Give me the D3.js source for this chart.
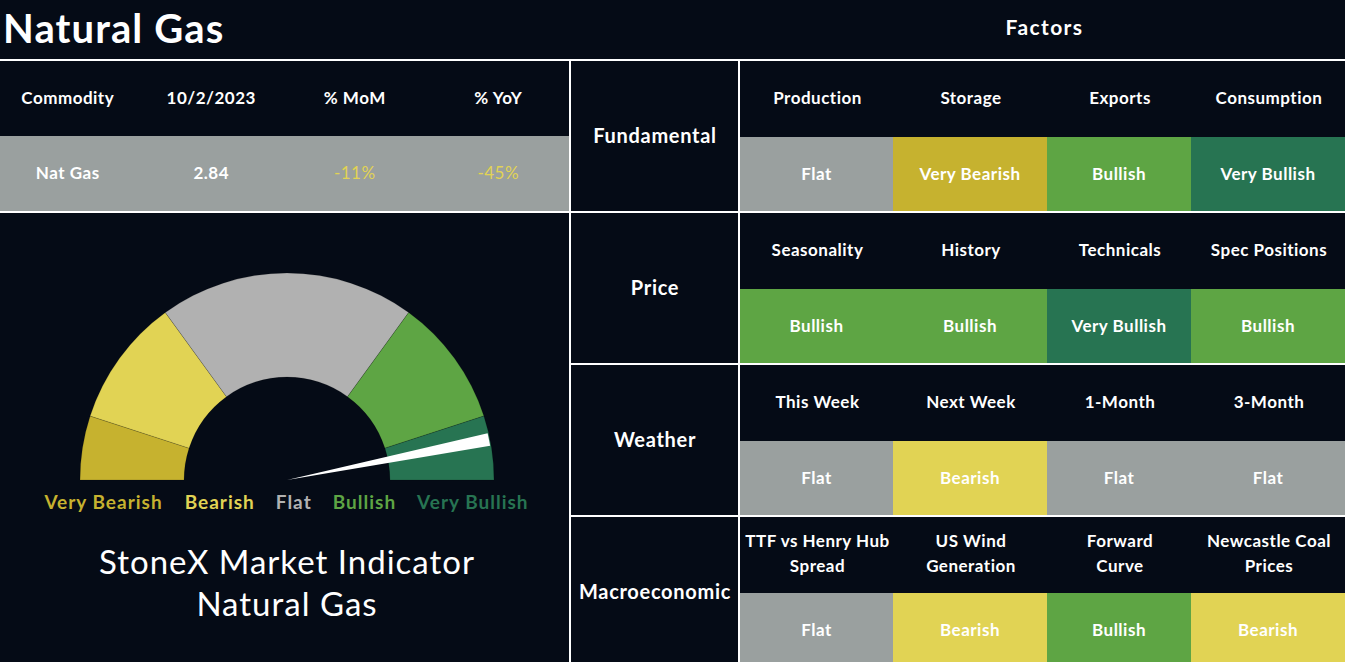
<!DOCTYPE html>
<html>
<head>
<meta charset="utf-8">
<script src="https://cdn.jsdelivr.net/npm/d3@7"></script>
<style>
  html, body { margin: 0; padding: 0; background: #050B16; }
  svg { display: block; font-family: Lato, "Open Sans", sans-serif; }
</style>
</head>
<body>
<svg id="chart" width="1345" height="662"></svg>
<script>
// ---------- data ----------
const pageTitle = "Natural Gas";
const factorsTitle = "Factors";
const tableHeaders = ["Commodity", "10/2/2023", "% MoM", "% YoY"];
const tableValues = ["Nat Gas", "2.84", "-11%", "-45%"];
const tableValueTone = ["plain", "plain", "Bearish", "Bearish"];
const levels = ["Very Bearish", "Bearish", "Flat", "Bullish", "Very Bullish"];
const gaugeShares = [10, 20, 40, 20, 10];
const needleValue = 93.7;   // position on the 0-100 gauge
const needleWidth = 2;      // width of the pointer on the same scale
const gaugeTitle = ["StoneX Market Indicator", "Natural Gas"];
const categories = ["Fundamental", "Price", "Weather", "Macroeconomic"];
const factorNames = [
  [["Production"], ["Storage"], ["Exports"], ["Consumption"]],
  [["Seasonality"], ["History"], ["Technicals"], ["Spec Positions"]],
  [["This Week"], ["Next Week"], ["1-Month"], ["3-Month"]],
  [["TTF vs Henry Hub", "Spread"], ["US Wind", "Generation"], ["Forward", "Curve"], ["Newcastle Coal", "Prices"]]
];
const factorSignals = [
  ["Flat", "Very Bearish", "Bullish", "Very Bullish"],
  ["Bullish", "Bullish", "Very Bullish", "Bullish"],
  ["Flat", "Bearish", "Flat", "Flat"],
  ["Flat", "Bearish", "Bullish", "Bearish"]
];

// ---------- styles / layout ----------
const W = 1345, H = 662;
const BG = "#050B16";
const cellColor = d3.scaleOrdinal(levels, ["#C6B22F", "#E1D354", "#9AA09F", "#5EA544", "#277452"]);
const gaugeColor = d3.scaleOrdinal(levels, ["#C6B22F", "#E1D354", "#B1B1B1", "#5EA544", "#277452"]);
const lineColor = "#FFFFFF";

const svg = d3.select("#chart");
svg.append("rect").attr("width", W).attr("height", H).attr("fill", BG);

// title row
svg.append("text").attr("x", 3).attr("y", 43)
  .attr("fill", "#fff").attr("font-size", 40).attr("font-weight", 700)
  .attr("letter-spacing", 1.1)
  .text(pageTitle);

const leftW = 570;
const catX = d3.scaleLinear().domain([0, 1]).range([571, 739]);
const colEdges = [740, 893, 1047, 1191, 1345];
const colStart = d3.scaleOrdinal(d3.range(4), colEdges.slice(0, 4));
const colEnd = d3.scaleOrdinal(d3.range(4), colEdges.slice(1));

svg.append("text").attr("x", (colEdges[0] + colEdges[4]) / 2 + 2).attr("y", 35)
  .attr("text-anchor", "middle").attr("fill", "#fff")
  .attr("font-size", 21).attr("font-weight", 700).attr("letter-spacing", 1.4).text(factorsTitle);

// ---------- left commodity table ----------
const tx = d3.scaleBand().domain(tableHeaders).range([-4, leftW]);
const tableTop = 61, headH = 75, valH = 75;
svg.append("rect").attr("x", 0).attr("y", tableTop + headH).attr("width", leftW).attr("height", valH)
  .attr("fill", cellColor("Flat"));
svg.append("g").selectAll("text").data(tableHeaders).join("text")
  .attr("x", d => tx(d) + tx.bandwidth() / 2).attr("y", tableTop + headH / 2)
  .attr("dy", "0.35em").attr("text-anchor", "middle")
  .attr("fill", "#fff").attr("font-size", 17).attr("font-weight", 700).attr("letter-spacing", 0.5)
  .text(d => d);
svg.append("g").selectAll("text").data(tableValues).join("text")
  .attr("x", (d, i) => tx(tableHeaders[i]) + tx.bandwidth() / 2).attr("y", tableTop + headH + valH / 2)
  .attr("dy", "0.35em").attr("text-anchor", "middle")
  .attr("fill", (d, i) => tableValueTone[i] === "plain" ? "#fff" : cellColor(tableValueTone[i]))
  .attr("font-size", 17).attr("font-weight", (d, i) => tableValueTone[i] === "plain" ? 700 : 400)
  .attr("letter-spacing", 0.5)
  .text(d => d);

// ---------- gauge ----------
const cx = 287, cy = 480, rIn = 103, rOut = 207;
const pie = d3.pie().sort(null).startAngle(-Math.PI / 2).endAngle(Math.PI / 2);
const arc = d3.arc().innerRadius(rIn).outerRadius(rOut);
const g = svg.append("g").attr("transform", `translate(${cx},${cy})`);
g.selectAll("path.band").data(pie(gaugeShares)).join("path")
  .attr("class", "band")
  .attr("d", arc)
  .attr("fill", (d, i) => gaugeColor(levels[i]))
  .attr("stroke", "rgba(0,0,0,0.25)").attr("stroke-width", 0.6);

const needleArcs = pie([needleValue - needleWidth / 2, needleWidth, 100 - needleValue - needleWidth / 2]);
g.append("path")
  .attr("d", d3.arc().innerRadius(0).outerRadius(rOut - 1)(needleArcs[1]))
  .attr("fill", "#fff");

// legend labels laid out inline under the gauge
const legend = svg.append("g");
const labels = legend.selectAll("text").data(levels).join("text")
  .attr("y", 509).attr("font-size", 19).attr("font-weight", 700).attr("letter-spacing", 1)
  .attr("fill", d => gaugeColor(d)).text(d => d);
const gap = 21;
const widths = labels.nodes().map(n => n.getBBox().width);
const total = d3.sum(widths) + gap * (widths.length - 1);
let xpos = cx - total / 2;
labels.attr("x", (d, i) => { const x = xpos; xpos += widths[i] + gap; return x; });

svg.append("g").selectAll("text").data(gaugeTitle).join("text")
  .attr("x", cx).attr("y", (d, i) => 574 + i * 42)
  .attr("text-anchor", "middle").attr("fill", "#fff")
  .attr("font-size", 33).attr("font-weight", 400).attr("letter-spacing", 1)
  .text(d => d);

// ---------- factor grid ----------
const rowY = d3.scaleBand().domain(categories).range([61, 669]).paddingInner(0);
const rowH = 152, bandH = 76;
const rows = svg.append("g").selectAll("g").data(categories).join("g")
  .attr("transform", d => `translate(0,${rowY(d)})`);

rows.append("text")
  .attr("x", (catX(0) + catX(1)) / 2).attr("y", rowH / 2 - 1)
  .attr("dy", "0.35em").attr("text-anchor", "middle")
  .attr("fill", "#fff").attr("font-size", 20).attr("font-weight", 700).attr("letter-spacing", 0.7)
  .text(d => d);

rows.each(function (cat, ri) {
  const row = d3.select(this);
  const cells = factorSignals[ri].map((s, ci) => ({ s, ci, name: factorNames[ri][ci] }));
  row.selectAll("rect").data(cells).join("rect")
    .attr("x", d => colStart(d.ci)).attr("y", bandH)
    .attr("width", d => colEnd(d.ci) - colStart(d.ci)).attr("height", bandH)
    .attr("fill", d => cellColor(d.s));
  row.selectAll("text.val").data(cells).join("text")
    .attr("class", "val")
    .attr("x", d => (colStart(d.ci) + colEnd(d.ci)) / 2).attr("y", bandH + bandH / 2 - 1)
    .attr("dy", "0.35em").attr("text-anchor", "middle")
    .attr("fill", "#fff").attr("font-size", 17).attr("font-weight", 700).attr("letter-spacing", 0.5)
    .text(d => d.s);
  const hdr = row.selectAll("text.hdr").data(cells).join("text")
    .attr("class", "hdr")
    .attr("text-anchor", "middle")
    .attr("fill", "#fff").attr("font-size", 17).attr("font-weight", 700).attr("letter-spacing", 0.5);
  hdr.each(function (d) {
    const t = d3.select(this);
    const n = d.name.length;
    d.name.forEach((line, li) => {
      t.append("tspan")
        .attr("x", (colStart(d.ci) + colEnd(d.ci)) / 2 + 1)
        .attr("y", bandH / 2 - 1 + (li - (n - 1) / 2) * 25)
        .attr("dy", "0.35em")
        .text(line);
    });
  });
});

// ---------- grid lines ----------
const lines = svg.append("g").attr("stroke", lineColor).attr("stroke-width", 2);
lines.append("line").attr("x1", 0).attr("x2", W).attr("y1", 60).attr("y2", 60);
lines.append("line").attr("x1", 0).attr("x2", W).attr("y1", 212).attr("y2", 212);
lines.selectAll("line.rowsep").data(categories.slice(2)).join("line")
  .attr("class", "rowsep")
  .attr("x1", leftW).attr("x2", W)
  .attr("y1", d => rowY(d) - 1).attr("y2", d => rowY(d) - 1);
lines.append("line").attr("x1", leftW).attr("x2", leftW).attr("y1", 60).attr("y2", H);
lines.append("line").attr("x1", catX(1)).attr("x2", catX(1)).attr("y1", 60).attr("y2", H);
</script>
</body>
</html>
